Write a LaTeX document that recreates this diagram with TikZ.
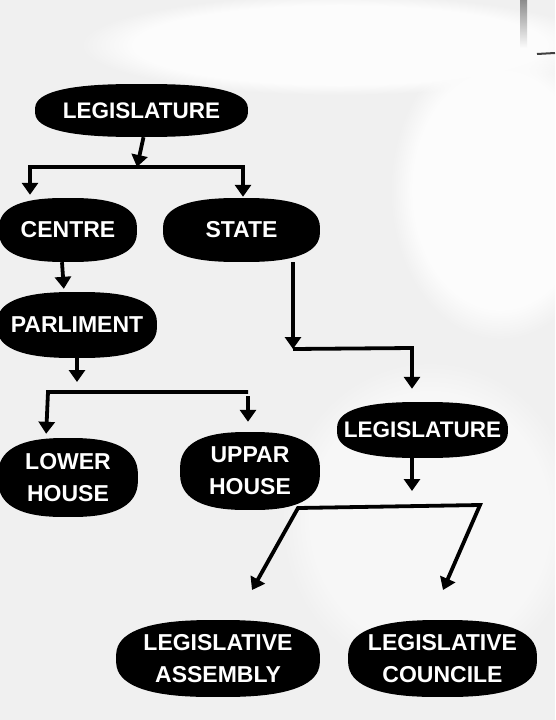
\documentclass[tikz,border=0pt]{standalone}
\usepackage{fontspec}
\setmainfont{Liberation Sans}
\usetikzlibrary{arrows.meta,fadings}
\newcommand\blob[4]{\fill[black] plot[domain=2.5:357.5,samples=72,variable=\t] ({#1+(#3)/2*cos(\t)/abs(cos(\t))*abs(cos(\t))^0.76},{#2+(#4)/2*sin(\t)/abs(sin(\t))*abs(sin(\t))^0.76}) -- cycle;}
\definecolor{bg}{RGB}{240,240,240}
\definecolor{bgw}{RGB}{252,252,252}
\begin{document}
\begin{tikzpicture}[x=1pt,y=-1pt,
  lbl/.style={text=white,font=\bfseries\fontsize{23}{32}\selectfont,align=center,inner sep=0pt},
  lblsm/.style={lbl,font=\bfseries\fontsize{22.5}{32}\selectfont},
  conn/.style={line width=3.8pt,black},
  arr/.style={conn,-{Triangle[width=16pt,length=12pt]}},
  arrboth/.style={conn,{Triangle[width=16pt,length=12pt]}-{Triangle[width=16pt,length=12pt]}},
  glow/.style={bgw,path fading=circle with fuzzy edge 20 percent}]
\useasboundingbox (0,0) rectangle (555,720);
% background
\begin{scope}
\clip (0,0) rectangle (555,720);
\fill[bg] (0,0) rectangle (555,720);
\fill[glow] (340,45) ellipse (260 and 50);
\fill[glow] (500,190) ellipse (110 and 150);
\fill[glow,opacity=0.6] (430,520) ellipse (150 and 160);
\shade[top color=black!45,bottom color=bgw] (520,0) rectangle (527,48);
\draw[line width=2pt,black!75] (537,54) -- (555,53);
\end{scope}
% shapes
\blob{141.5}{110.5}{213}{53}
\blob{68}{230}{138}{64}
\blob{241.5}{230}{157}{64}
\blob{77}{325}{160}{66}
\blob{68}{477.5}{140}{79}
\blob{250}{471}{140}{78}
\blob{422.5}{430}{171}{56}
\blob{218}{658.5}{204}{77}
\blob{442.5}{658.5}{189}{77}
% nodes
\node[lblsm,minimum width=213pt,minimum height=53pt] (leg1) at (141.5,110.5) {LEGISLATURE};
\node[lbl,minimum width=138pt,minimum height=64pt] (centre) at (68,230) {CENTRE};
\node[lbl,minimum width=157pt,minimum height=64pt] (state) at (241.5,230) {STATE};
\node[lbl,minimum width=160pt,minimum height=66pt] (parl) at (77,325) {PARLIMENT};
\node[lbl,minimum width=140pt,minimum height=79pt] (lower) at (68,477.5) {LOWER\\HOUSE};
\node[lbl,minimum width=140pt,minimum height=78pt] (uppar) at (250,471) {UPPAR\\HOUSE};
\node[lblsm,minimum width=171pt,minimum height=56pt] (leg2) at (422.5,430) {LEGISLATURE};
\node[lbl,minimum width=204pt,minimum height=77pt] (assem) at (218,658.5) {LEGISLATIVE\\ASSEMBLY};
\node[lbl,minimum width=189pt,minimum height=77pt] (counc) at (442.5,658.5) {LEGISLATIVE\\COUNCILE};
% junction coordinates
\coordinate (b1l) at (30,167);
\coordinate (b1m) at (137,167);
\coordinate (b1r) at (243,167);
\coordinate (b2l) at (48,392);
\coordinate (b2r) at (248,392);
\coordinate (c1) at (293,349);
\coordinate (c2) at (412,348);
\coordinate (b3l) at (298,508);
\coordinate (b3r) at (480,505);
\coordinate (ta) at (252,590);
\coordinate (tc) at (443,590);
% connectors
\draw[arr] ([xshift=2pt]leg1.south) -- (b1m);
\draw[arrboth,shorten <=3pt,shorten >=1pt] (b1l |- centre.north) -- (b1l) -- (b1r) -- (b1r |- state.north);
\draw[arr,shorten >=3pt] ([xshift=-6pt]centre.south) -- ([xshift=-13pt]parl.north);
\draw[arr,shorten >=10pt] (parl.south) -- (parl.south |- b2l);
\draw[conn,-{Triangle[width=16pt,length=12pt]},shorten >=4pt] (b2r) -- (b2l) -- ([xshift=-22pt]lower.north);
\draw[arr,shorten >=10pt] ([yshift=-4pt]b2r) -- ([xshift=-2pt]uppar.north);
\draw[arr] ([xshift=51.5pt]state.south) -- (c1);
\draw[arr,shorten >=13pt] (c1) -- (c2) -- (c2 |- leg2.north);
\draw[arr,shorten >=17pt] ([xshift=-10.5pt]leg2.south) -- ([xshift=-10.5pt]leg2.south |- b3l);
\draw[arrboth] (ta) -- (b3l) -- (b3r) -- (tc);
\end{tikzpicture}
\end{document}
